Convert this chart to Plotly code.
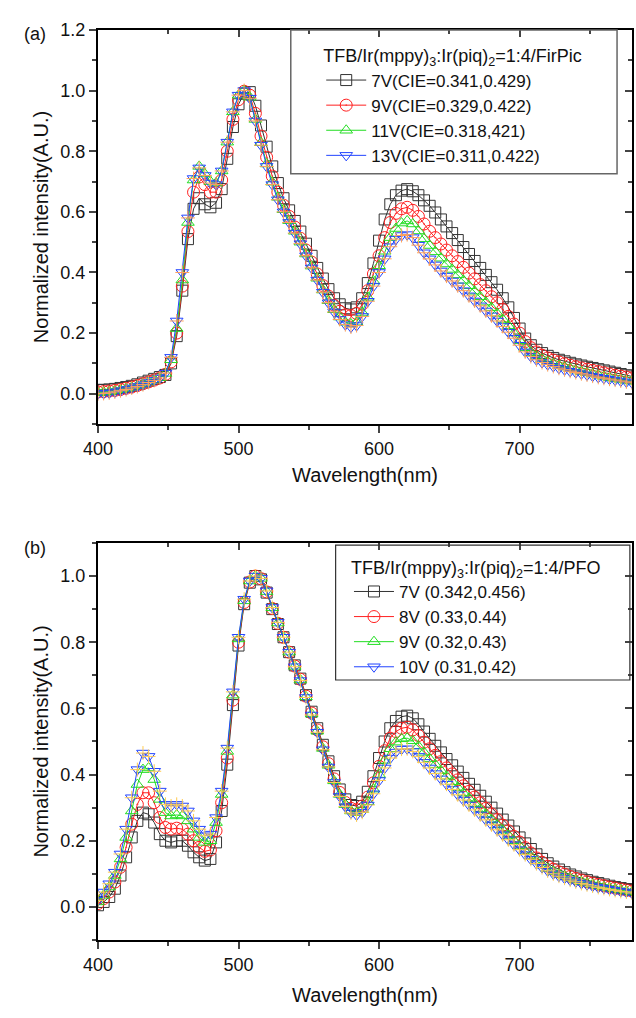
import plotly.graph_objects as go

# wavelength grid shared by every curve (nm)
WAVELENGTH = list(range(400, 781, 4))

# panel (a): TFB/Ir(mppy)3:Ir(piq)2=1:4/FirPic
A_NAMES = ["7V(CIE=0.341,0.429)", "9V(CIE=0.329,0.422)",
           "11V(CIE=0.318,421)", "13V(CIE=0.311,0.422)"]
A_7V = [0.012, 0.013, 0.014, 0.016, 0.019, 0.022, 0.026, 0.031, 0.037, 0.043, 0.049, 0.055,
        0.062, 0.100, 0.190, 0.340, 0.510, 0.610, 0.645, 0.625, 0.615, 0.630, 0.675, 0.775,
        0.880, 0.955, 0.990, 0.995, 0.950, 0.885, 0.815, 0.750, 0.695, 0.645, 0.605, 0.570,
        0.535, 0.495, 0.455, 0.415, 0.380, 0.345, 0.315, 0.295, 0.282, 0.278, 0.285, 0.315,
        0.365, 0.430, 0.505, 0.575, 0.625, 0.655, 0.670, 0.675, 0.668, 0.655, 0.638, 0.620,
        0.598, 0.575, 0.552, 0.530, 0.507, 0.484, 0.461, 0.438, 0.415, 0.392, 0.368, 0.343,
        0.315, 0.285, 0.250, 0.215, 0.182, 0.160, 0.145, 0.134, 0.125, 0.118, 0.112, 0.107,
        0.102, 0.097, 0.093, 0.089, 0.085, 0.081, 0.077, 0.073, 0.069, 0.065, 0.061, 0.057]
A_9V = [0.006, 0.007, 0.009, 0.011, 0.014, 0.018, 0.022, 0.027, 0.033, 0.039, 0.045, 0.052,
        0.064, 0.105, 0.200, 0.355, 0.535, 0.665, 0.715, 0.690, 0.665, 0.665, 0.705, 0.800,
        0.905, 0.970, 0.998, 0.985, 0.925, 0.850, 0.780, 0.718, 0.665, 0.622, 0.585, 0.550,
        0.513, 0.474, 0.434, 0.395, 0.357, 0.322, 0.292, 0.272, 0.260, 0.258, 0.265, 0.295,
        0.340, 0.395, 0.455, 0.515, 0.565, 0.595, 0.610, 0.615, 0.605, 0.585, 0.560, 0.536,
        0.515, 0.494, 0.474, 0.455, 0.436, 0.417, 0.398, 0.379, 0.360, 0.340, 0.320, 0.300,
        0.278, 0.255, 0.230, 0.200, 0.172, 0.152, 0.138, 0.127, 0.118, 0.111, 0.105, 0.099,
        0.094, 0.089, 0.085, 0.081, 0.077, 0.073, 0.069, 0.065, 0.061, 0.058, 0.055, 0.052]
A_11V = [0.004, 0.005, 0.007, 0.010, 0.013, 0.017, 0.021, 0.026, 0.032, 0.038, 0.045, 0.053,
         0.067, 0.112, 0.215, 0.375, 0.565, 0.705, 0.750, 0.725, 0.700, 0.695, 0.735, 0.830,
         0.930, 0.985, 1.000, 0.978, 0.905, 0.828, 0.758, 0.698, 0.648, 0.607, 0.571, 0.536,
         0.500, 0.461, 0.421, 0.381, 0.342, 0.307, 0.277, 0.253, 0.236, 0.230, 0.236, 0.268,
         0.318, 0.372, 0.422, 0.470, 0.515, 0.545, 0.563, 0.570, 0.560, 0.537, 0.511, 0.489,
         0.468, 0.447, 0.428, 0.410, 0.392, 0.374, 0.356, 0.338, 0.320, 0.302, 0.284, 0.265,
         0.245, 0.224, 0.200, 0.175, 0.152, 0.136, 0.124, 0.114, 0.106, 0.099, 0.093, 0.088,
         0.083, 0.078, 0.073, 0.069, 0.065, 0.061, 0.057, 0.053, 0.050, 0.047, 0.044, 0.041]
A_13V = [0.000, 0.001, 0.003, 0.006, 0.010, 0.014, 0.019, 0.024, 0.030, 0.037, 0.044, 0.052,
         0.068, 0.120, 0.240, 0.400, 0.580, 0.710, 0.745, 0.720, 0.695, 0.690, 0.735, 0.830,
         0.930, 0.985, 1.000, 0.975, 0.900, 0.820, 0.750, 0.690, 0.640, 0.600, 0.565, 0.530,
         0.495, 0.455, 0.415, 0.375, 0.335, 0.300, 0.270, 0.245, 0.228, 0.220, 0.225, 0.255,
         0.305, 0.355, 0.400, 0.445, 0.485, 0.510, 0.522, 0.525, 0.515, 0.490, 0.465, 0.445,
         0.425, 0.405, 0.388, 0.372, 0.356, 0.340, 0.323, 0.306, 0.290, 0.273, 0.257, 0.240,
         0.222, 0.203, 0.183, 0.160, 0.138, 0.123, 0.112, 0.103, 0.096, 0.090, 0.084, 0.079,
         0.074, 0.070, 0.066, 0.062, 0.058, 0.054, 0.051, 0.048, 0.045, 0.042, 0.039, 0.036]

# panel (b): TFB/Ir(mppy)3:Ir(piq)2=1:4/PFO
B_NAMES = ["7V (0.342,0.456)", "8V (0.33,0.44)", "9V (0.32,0.43)", "10V (0.31,0.42)"]
B_7V = [0.005, 0.015, 0.030, 0.055, 0.095, 0.150, 0.210, 0.260, 0.285, 0.280, 0.255, 0.220,
        0.200, 0.195, 0.200, 0.200, 0.185, 0.165, 0.150, 0.140, 0.145, 0.195, 0.290, 0.430,
        0.610, 0.790, 0.915, 0.980, 1.000, 0.990, 0.950, 0.900, 0.855, 0.815, 0.770, 0.730,
        0.690, 0.640, 0.590, 0.540, 0.490, 0.440, 0.395, 0.355, 0.325, 0.308, 0.305, 0.318,
        0.348, 0.395, 0.450, 0.500, 0.540, 0.562, 0.575, 0.578, 0.570, 0.552, 0.530, 0.508,
        0.487, 0.467, 0.447, 0.428, 0.409, 0.390, 0.372, 0.354, 0.336, 0.318, 0.300, 0.282,
        0.264, 0.246, 0.228, 0.210, 0.192, 0.175, 0.159, 0.145, 0.132, 0.122, 0.113, 0.105,
        0.098, 0.092, 0.086, 0.081, 0.076, 0.072, 0.068, 0.064, 0.060, 0.057, 0.054, 0.051]
B_8V = [0.010, 0.025, 0.045, 0.075, 0.120, 0.180, 0.250, 0.310, 0.345, 0.345, 0.315, 0.270,
        0.240, 0.235, 0.238, 0.235, 0.220, 0.200, 0.180, 0.168, 0.172, 0.230, 0.315, 0.450,
        0.625, 0.800, 0.920, 0.982, 1.000, 0.992, 0.952, 0.902, 0.857, 0.815, 0.770, 0.728,
        0.688, 0.637, 0.586, 0.535, 0.484, 0.433, 0.387, 0.346, 0.316, 0.298, 0.294, 0.305,
        0.332, 0.375, 0.425, 0.472, 0.510, 0.530, 0.540, 0.543, 0.535, 0.518, 0.498, 0.478,
        0.458, 0.439, 0.420, 0.402, 0.384, 0.366, 0.349, 0.332, 0.315, 0.298, 0.281, 0.264,
        0.247, 0.230, 0.213, 0.196, 0.179, 0.163, 0.148, 0.135, 0.123, 0.114, 0.106, 0.099,
        0.092, 0.086, 0.081, 0.076, 0.072, 0.068, 0.064, 0.060, 0.057, 0.054, 0.051, 0.048]
B_9V = [0.015, 0.035, 0.060, 0.095, 0.145, 0.210, 0.290, 0.370, 0.415, 0.420, 0.385, 0.325,
        0.285, 0.275, 0.278, 0.275, 0.260, 0.235, 0.210, 0.195, 0.200, 0.255, 0.340, 0.470,
        0.640, 0.810, 0.925, 0.985, 1.000, 0.993, 0.953, 0.904, 0.858, 0.815, 0.770, 0.727,
        0.686, 0.635, 0.583, 0.531, 0.479, 0.428, 0.381, 0.340, 0.309, 0.290, 0.285, 0.294,
        0.318, 0.356, 0.400, 0.443, 0.478, 0.498, 0.508, 0.510, 0.502, 0.486, 0.467, 0.448,
        0.430, 0.412, 0.395, 0.378, 0.361, 0.344, 0.328, 0.312, 0.296, 0.280, 0.264, 0.248,
        0.232, 0.216, 0.200, 0.184, 0.168, 0.153, 0.139, 0.127, 0.116, 0.107, 0.099, 0.093,
        0.087, 0.081, 0.076, 0.072, 0.068, 0.064, 0.060, 0.057, 0.054, 0.051, 0.048, 0.045]
B_10V = [0.020, 0.045, 0.070, 0.105, 0.160, 0.235, 0.330, 0.415, 0.465, 0.455, 0.410, 0.350,
         0.310, 0.305, 0.310, 0.305, 0.290, 0.260, 0.235, 0.215, 0.220, 0.270, 0.350, 0.480,
         0.650, 0.815, 0.930, 0.985, 1.000, 0.993, 0.955, 0.905, 0.860, 0.815, 0.770, 0.726,
         0.684, 0.633, 0.580, 0.528, 0.475, 0.423, 0.376, 0.334, 0.303, 0.284, 0.278, 0.286,
         0.308, 0.342, 0.382, 0.420, 0.450, 0.468, 0.477, 0.478, 0.470, 0.455, 0.437, 0.420,
         0.403, 0.387, 0.371, 0.355, 0.339, 0.323, 0.308, 0.293, 0.278, 0.263, 0.248, 0.233,
         0.218, 0.203, 0.188, 0.173, 0.158, 0.144, 0.131, 0.119, 0.109, 0.100, 0.093, 0.087,
         0.081, 0.076, 0.071, 0.067, 0.063, 0.059, 0.056, 0.053, 0.050, 0.047, 0.045, 0.042]

COLORS = ["#333333", "#ff2020", "#22dd22", "#2244ff"]
SYMBOLS = ["square-open", "circle-open-dot", "triangle-up-open", "triangle-down-open"]
SIZES = [11, 12, 11, 11]
FONT = "Liberation Sans, Arial, sans-serif"

fig = go.Figure()


def add_panel(series, names, xref, yref, legend):
    for vals, name, col, sym, sz in zip(series, names, COLORS, SYMBOLS, SIZES):
        fig.add_trace(go.Scatter(
            x=WAVELENGTH, y=vals, name=name, mode="lines+markers",
            xaxis=xref, yaxis=yref, legend=legend,
            line=dict(color=col, width=1),
            marker=dict(symbol=sym, size=sz, color=col, line=dict(color=col, width=1)),
        ))
    # the blue markers carry a small cross
    fig.add_trace(go.Scatter(
        x=WAVELENGTH, y=series[-1], mode="markers", showlegend=False,
        xaxis=xref, yaxis=yref, hoverinfo="skip",
        marker=dict(symbol="cross-thin-open", size=10, line=dict(color=COLORS[-1], width=1)),
    ))


add_panel([A_7V, A_9V, A_11V, A_13V], A_NAMES, "x", "y", "legend")
add_panel([B_7V, B_8V, B_9V, B_10V], B_NAMES, "x2", "y2", "legend2")

# empty traces so the mirrored (inward tick) axes get drawn
for xa, ya in [("x3", "y3"), ("x4", "y4")]:
    fig.add_trace(go.Scatter(x=[None], y=[None], xaxis=xa, yaxis=ya,
                             showlegend=False, hoverinfo="skip"))

tickfont = dict(family=FONT, size=18, color="#111")
titlefont = dict(family=FONT, size=20, color="#111")
legfont = dict(family=FONT, size=17, color="#111")

xbase = dict(range=[400, 780], tick0=400, dtick=100, ticks="outside", ticklen=7, tickwidth=2,
             showline=True, linecolor="black", linewidth=2, mirror=True,
             showgrid=False, zeroline=False, tickfont=tickfont,
             minor=dict(tick0=400, dtick=50, ticks="outside", ticklen=4, tickwidth=1.5))
ybase = dict(dtick=0.2, tick0=0, ticks="outside", ticklen=7, tickwidth=2, tickformat=".1f",
             showline=True, linecolor="black", linewidth=2, mirror=True,
             showgrid=False, zeroline=False, tickfont=tickfont,
             minor=dict(dtick=0.1, tick0=0, ticks="outside", ticklen=4, tickwidth=1.5))
xtop = dict(range=[400, 780], tick0=400, dtick=100, side="top", ticks="inside",
            ticklen=7, tickwidth=2, showticklabels=False, showline=False,
            showgrid=False, zeroline=False,
            minor=dict(tick0=400, dtick=50, ticks="inside", ticklen=4, tickwidth=1.5))
yright = dict(dtick=0.2, tick0=0, side="right", ticks="inside", ticklen=7, tickwidth=2,
              showticklabels=False, showline=False, showgrid=False, zeroline=False,
              minor=dict(dtick=0.1, tick0=0, ticks="inside", ticklen=4, tickwidth=1.5))

A_DOM = [0.567, 1.0]
B_DOM = [0.0, 0.4363]

fig.update_layout(
    width=636, height=1018,
    margin=dict(l=98, r=2, t=30, b=78),
    paper_bgcolor="white", plot_bgcolor="white",
    font=dict(family=FONT, color="#111"),
    xaxis=dict(xbase, anchor="y",
               title=dict(text="Wavelength(nm)", font=titlefont, standoff=10)),
    yaxis=dict(ybase, anchor="x", domain=A_DOM, range=[-0.1, 1.2],
               title=dict(text="Normalized intensity(A.U.)", font=titlefont, standoff=6)),
    xaxis2=dict(xbase, anchor="y2",
                title=dict(text="Wavelength(nm)", font=titlefont, standoff=14)),
    yaxis2=dict(ybase, anchor="x2", domain=B_DOM, range=[-0.1, 1.1],
                title=dict(text="Normalized intensity(A.U.)", font=titlefont, standoff=6)),
    xaxis3=dict(xtop, overlaying="x", anchor="y"),
    yaxis3=dict(yright, overlaying="y", anchor="x", range=[-0.1, 1.2]),
    xaxis4=dict(xtop, overlaying="x2", anchor="y2"),
    yaxis4=dict(yright, overlaying="y2", anchor="x2", range=[-0.1, 1.1]),
    legend=dict(x=0.418, y=0.99, xanchor="left", yanchor="top",
                bgcolor="rgba(0,0,0,0)", borderwidth=0, itemwidth=40, font=legfont,
                title=dict(text="TFB/Ir(mppy)<sub>3</sub>:Ir(piq)<sub>2</sub>=1:4/FirPic",
                           font=dict(family=FONT, size=18, color="#111"))),
    legend2=dict(x=0.47, y=0.428, xanchor="left", yanchor="top",
                 bgcolor="rgba(0,0,0,0)", borderwidth=0, itemwidth=40, font=legfont,
                 title=dict(text="TFB/Ir(mppy)<sub>3</sub>:Ir(piq)<sub>2</sub>=1:4/PFO",
                            font=dict(family=FONT, size=18, color="#111"))),
    shapes=[
        dict(type="rect", xref="paper", yref="paper", x0=0.361, x1=0.972, y0=0.842, y1=1.0,
             line=dict(color="#666", width=1.5), fillcolor="rgba(0,0,0,0)"),
        dict(type="rect", xref="paper", yref="paper", x0=0.445, x1=0.996, y0=0.2857, y1=0.434,
             line=dict(color="#333", width=1.2), fillcolor="rgba(0,0,0,0)"),
    ],
    annotations=[
        dict(text="(a)", xref="paper", yref="paper", x=-0.142, y=1.009, showarrow=False,
             font=dict(family=FONT, size=18, color="#111")),
        dict(text="(b)", xref="paper", yref="paper", x=-0.142, y=0.4308, showarrow=False,
             font=dict(family=FONT, size=18, color="#111")),
    ],
)

# page margin off so the 636x1018 figure fills the window exactly
fig.write_html("out.html", config={"displayModeBar": False},
               post_script="document.body.style.margin='0';document.body.style.overflow='hidden';")
